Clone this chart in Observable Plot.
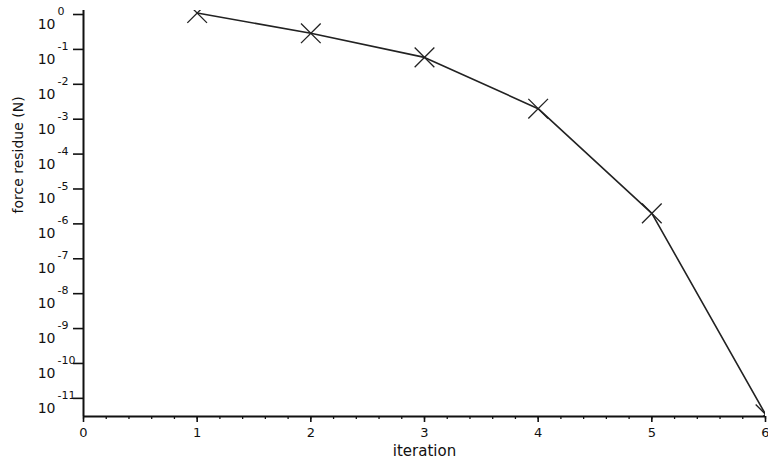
<!DOCTYPE html>
<html>
<head>
<meta charset="utf-8">
<script src="https://cdn.jsdelivr.net/npm/d3@7"></script>
<script src="https://cdn.jsdelivr.net/npm/@observablehq/plot@0.6"></script>
<style>
  html, body { margin: 0; padding: 0; background: #fff; }
  svg { display: block; }
</style>
</head>
<body>
<div id="chart"></div>
<script>
// Data
const iterations = [1, 2, 3, 4, 5, 6];
const residues = [1.1, 0.29, 0.059, 2.0e-3, 2.0e-6, 3.5e-12];
// Axis ticks
const yExponents = [0, -1, -2, -3, -4, -5, -6, -7, -8, -9, -10, -11];
const xMajorTicks = [0, 1, 2, 3, 4, 5, 6];
const xMinorTicks = d3.range(0, 30.5).map(i => i / 5);

const yTicks = yExponents.map(e => Math.pow(10, e));
const data = iterations.map((x, i) => ({x, y: residues[i]}));

const yMin = Math.pow(10, -11.52);
const yMax = Math.pow(10, 0.115);
const font = "DejaVu Sans, sans-serif";

const chart = Plot.plot({
  width: 768,
  height: 466,
  marginTop: 10,
  marginBottom: 50,
  marginLeft: 83,
  marginRight: 3,
  style: {fontFamily: font, color: "#111", background: "#fff"},
  x: {domain: [0, 6], label: null},
  y: {type: "log", domain: [yMin, yMax], label: null},
  marks: [
    Plot.line(data, {x: "x", y: "y", stroke: "#222", strokeWidth: 1.6, clip: true}),
    Plot.dot(data, {x: "x", y: "y", symbol: "times", r: 9, stroke: "#222", strokeWidth: 1.3, clip: true}),
    // axes lines
    Plot.ruleX([0], {stroke: "#111", strokeWidth: 2}),
    Plot.ruleY([yMin], {stroke: "#111", strokeWidth: 2}),
    // y axis ticks
    Plot.axisY({ticks: yTicks, tickSize: 10, tickFormat: () => "", label: null, stroke: "#111", strokeWidth: 1.6}),
    Plot.text(yTicks, {y: d => d, frameAnchor: "left", text: () => "10", dx: -28, dy: 10, textAnchor: "end", fontSize: 14, fill: "#111"}),
    Plot.text(yTicks, {y: d => d, frameAnchor: "left", text: d => String(Math.round(Math.log10(d))), dx: -26, dy: -3, textAnchor: "start", fontSize: 11, fill: "#111"}),
    // x axis
    Plot.axisX({ticks: xMinorTicks, tickSize: 3, tickFormat: () => "", label: null, stroke: "#111", strokeWidth: 1.3}),
    Plot.axisX({ticks: xMajorTicks, tickSize: 6, tickPadding: 5, tickFormat: d => String(d), label: null, fontSize: 13, fill: "#111", stroke: "#111", strokeWidth: 1.6}),
    // axis labels
    Plot.text(["iteration"], {frameAnchor: "bottom", text: d => d, dy: 39, fontSize: 15, fill: "#111"}),
    Plot.text(["force residue (N)"], {frameAnchor: "left", text: d => d, dx: -65, rotate: -90, fontSize: 14, fill: "#111"})
  ]
});
document.getElementById("chart").appendChild(chart);
</script>
</body>
</html>
